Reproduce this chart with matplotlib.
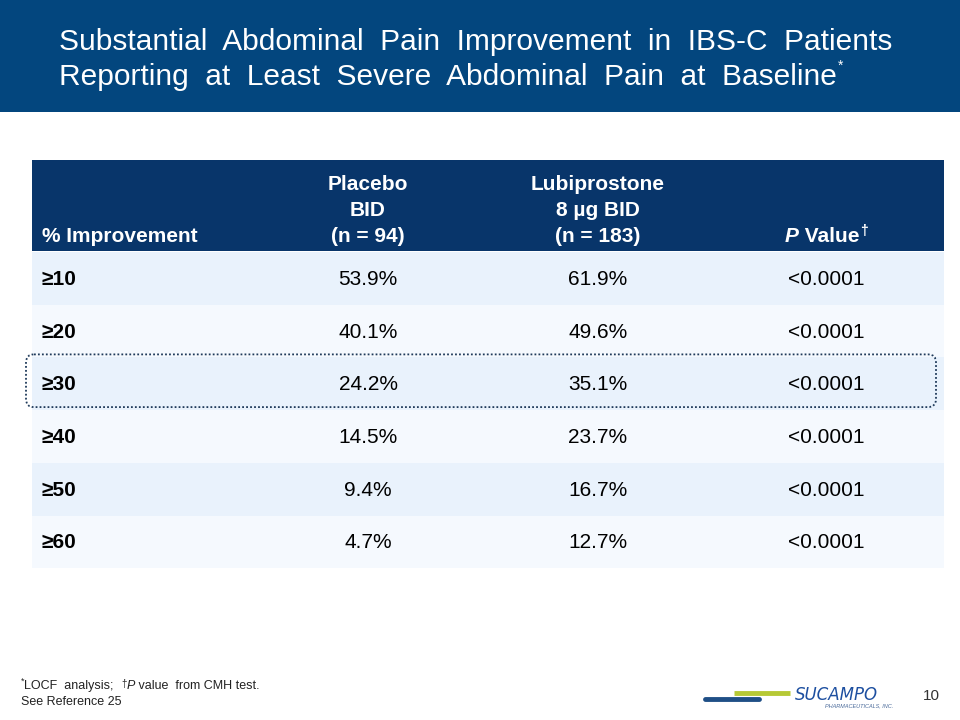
import matplotlib.pyplot as plt
from matplotlib.patches import Rectangle, FancyBboxPatch

plt.rcParams['font.family'] = ['Liberation Sans', 'DejaVu Sans']

# Table data
thresholds = ['\u226510', '\u226520', '\u226530', '\u226540', '\u226550', '\u226560']
placebo = [53.9, 40.1, 24.2, 14.5, 9.4, 4.7]
lubiprostone = [61.9, 49.6, 35.1, 23.7, 16.7, 12.7]
p_values = ['<0.0001'] * 6
highlight_row = 2

title_lines = ['Substantial Abdominal Pain Improvement in IBS-C Patients',
               'Reporting at Least Severe Abdominal Pain at Baseline']
placebo_hdr = ['Placebo', 'BID', '(n = 94)']
lubi_hdr = ['Lubiprostone', '8 \u00b5g BID', '(n = 183)']

fig = plt.figure(figsize=(9.6, 7.2), dpi=100)
ax = fig.add_axes([0, 0, 1, 1])
ax.set_xlim(0, 960)
ax.set_ylim(720, 0)
ax.axis('off')
renderer = fig.canvas.get_renderer()
inv = ax.transData.inverted()


def right_edge(txt):
    bb = txt.get_window_extent(renderer)
    return inv.transform((bb.x1, bb.y0))[0]


def width_of(txt):
    bb = txt.get_window_extent(renderer)
    return inv.transform((bb.x1, 0))[0] - inv.transform((bb.x0, 0))[0]


# Title band
ax.add_patch(Rectangle((0, 0), 960, 112, color='#03467e', lw=0))
ax.text(59, 42, title_lines[0].replace(' ', '  '), color='white', fontsize=21.5,
        va='center', ha='left')
t2 = ax.text(59, 77, title_lines[1].replace(' ', '  '), color='white', fontsize=21.5,
             va='center', ha='left')
ax.text(right_edge(t2) + 1, 66, '*', color='white', fontsize=10, va='center', ha='left')

# Table header
x0, x1 = 32, 944
ax.add_patch(Rectangle((x0, 160), x1 - x0, 91, color='#08356a', lw=0))
col_x = [42, 368, 598, 826]
hdr_kw = dict(color='white', fontsize=15, fontweight='bold', va='center', ha='center')
ax.text(col_x[0], 237, '% Improvement', **{**hdr_kw, 'ha': 'left'})
for i, line in enumerate(placebo_hdr):
    ax.text(col_x[1], 185 + i * 25.5, line, **hdr_kw)
for i, line in enumerate(lubi_hdr):
    ax.text(col_x[2], 185 + i * 25.5, line, **hdr_kw)

# "P Value" header with italic P and dagger
tp = ax.text(0, 237, 'P', fontstyle='italic', **{**hdr_kw, 'ha': 'left'})
tv = ax.text(0, 237, ' Value', **{**hdr_kw, 'ha': 'left'})
td = ax.text(0, 231, '\u2020', **{**hdr_kw, 'ha': 'left', 'fontsize': 10})
total = width_of(tp) + width_of(tv) + width_of(td)
start = col_x[3] - total / 2
tp.set_x(start)
tv.set_x(start + width_of(tp))
td.set_x(start + width_of(tp) + width_of(tv) + 1)

# Body rows
row_top = 252
row_h = 52.7
for i, thr in enumerate(thresholds):
    y = row_top + i * row_h
    ax.add_patch(Rectangle((x0, y), x1 - x0, row_h,
                           color='#e9f2fc' if i % 2 == 0 else '#f5f9fe', lw=0))
    yc = y + row_h / 2 + 1
    ax.text(col_x[0], yc, thr, fontsize=15, fontweight='bold', va='center', ha='left')
    ax.text(col_x[1], yc, f'{placebo[i]:.1f}%', fontsize=15, va='center', ha='center')
    ax.text(col_x[2], yc, f'{lubiprostone[i]:.1f}%', fontsize=15, va='center', ha='center')
    ax.text(col_x[3], yc, p_values[i], fontsize=15, va='center', ha='center')

# Highlight of the >=30 row
hy = row_top + highlight_row * row_h
ax.add_patch(FancyBboxPatch((26, hy - 3), 910, row_h,
                            boxstyle='round,pad=0,rounding_size=8',
                            fill=False, ec='#1f3a5a', lw=1.3, ls=(0, (1, 1.2))))

# Footnote
fkw = dict(fontsize=9, va='center', ha='left', color='#222222')
f1 = ax.text(21, 681, '*', **{**fkw, 'fontsize': 6.5})
f2 = ax.text(right_edge(f1), 686, 'LOCF  analysis;  ', **fkw)
f3 = ax.text(right_edge(f2), 684, '\u2020', **{**fkw, 'fontsize': 7})
f4 = ax.text(right_edge(f3), 686, 'P', fontstyle='italic', **fkw)
ax.text(right_edge(f4), 686, ' value  from CMH test.', **fkw)
ax.text(21, 702, 'See Reference 25', **fkw)

# Logo
ax.plot([705, 759], [699, 699], color='#1f4f86', lw=3.5, solid_capstyle='round')
ax.plot([734, 790], [693, 693], color='#b6c935', lw=3.5, solid_capstyle='butt')
ax.text(795, 695, 'SUCAMPO', color='#1d4fa0', fontsize=12, fontstyle='italic',
        family='DejaVu Sans', va='center', ha='left')
ax.text(893, 706, 'PHARMACEUTICALS, INC.', color='#4a6a9a', fontsize=4,
        fontstyle='italic', va='center', ha='right')
ax.text(931, 696, '10', color='#333333', fontsize=11, va='center', ha='center')

fig.savefig('out.png', dpi=100)
